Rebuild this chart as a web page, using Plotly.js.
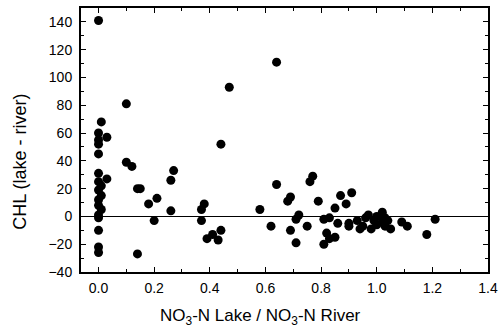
<!DOCTYPE html>
<html>
<head>
<meta charset="utf-8">
<script src="https://cdn.plot.ly/plotly-3.0.1.min.js"></script>
<style>html,body{margin:0;padding:0;background:#fff;}#chart{width:500px;height:331px;}</style>
</head>
<body>
<div id="chart"></div>
<script>
// NO3-N ratio (lake / river)
const ratio = [
  0.00, 0.10, 0.01, 0.00, 0.03, 0.00, 0.00, 0.00, 0.00, 0.03, 0.00, 0.01, 0.00, 0.01, 0.00, 0.00, 0.01, 0.00, 0.00, 0.00, 0.00, 0.00,
  0.10, 0.12, 0.14, 0.15, 0.14, 0.18, 0.21, 0.20, 0.26, 0.27, 0.26,
  0.37, 0.38, 0.37, 0.39, 0.41, 0.44, 0.43, 0.44, 0.47,
  0.58, 0.64, 0.64, 0.62, 0.68, 0.69, 0.69, 0.71, 0.71, 0.72, 0.75, 0.76, 0.77, 0.79,
  0.81, 0.83, 0.82, 0.81, 0.83, 0.85, 0.85, 0.86, 0.87, 0.89, 0.90, 0.91, 0.90,
  0.93, 0.95, 0.96, 0.98, 0.99, 1.00, 1.02, 1.02, 1.03, 1.05, 0.94, 0.97, 1.00, 1.03, 1.04,
  1.09, 1.11, 1.18, 1.21
];
// CHL difference (lake - river)
const chlDiff = [
  141, 81, 68, 60, 57, 55, 52, 45, 31, 27, 25, 22, 19, 15, 12, 8, 5, 1, -1, -10, -22, -26,
  39, 36, 20, 20, -27, 9, 13, -3, 26, 33, 4,
  5, 9, -3, -16, -13, -10, -17, 52, 93,
  5, 111, 23, -7, 11, 14, -10, -19, -2, 1, -7, 25, 29, 11,
  -2, -1, -12, -20, -16, -15, 6, -5, 15, 9, -7, 17, -5,
  -3, -7, -1, -9, -3, -6, 3, -4, -7, -9, -9, 1, 0, -1, -3,
  -4, -7, -13, -2
];
const xTicks = [0, 0.2, 0.4, 0.6, 0.8, 1.0, 1.2, 1.4];
const yTicks = [-40, -20, 0, 20, 40, 60, 80, 100, 120, 140];
const xTitle = 'NO<sub>3</sub>-N Lake / NO<sub>3</sub>-N River';
const yTitle = 'CHL (lake - river)';

const font = 'Liberation Sans, Arial, Helvetica, sans-serif';

const trace = {
  x: ratio, y: chlDiff, type: 'scatter', mode: 'markers',
  marker: {color: '#000', size: 9},
  hoverinfo: 'x+y'
};

const axisCommon = {
  showline: true, linecolor: '#000', linewidth: 2, mirror: 'allticks',
  ticks: 'inside', ticklen: 5, tickwidth: 1, tickcolor: '#000',
  showgrid: false, tickfont: {family: font, size: 14, color: '#000'}
};

const layout = {
  width: 500, height: 331,
  margin: {l: 81, r: 12, t: 8, b: 59},
  paper_bgcolor: '#fff', plot_bgcolor: '#fff',
  showlegend: false,
  font: {family: font, color: '#000'},
  xaxis: Object.assign({}, axisCommon, {
    range: [-0.063, 1.4], tickvals: xTicks, tickformat: '.1f',
    ticklabelstandoff: 2,
    minor: {dtick: 0.1, ticks: 'inside', ticklen: 3, tickcolor: '#000'},
    zeroline: false,
    title: {text: ''}
  }),
  yaxis: Object.assign({}, axisCommon, {
    range: [-40, 150], tickvals: yTicks,
    ticklabelstandoff: 4,
    minor: {dtick: 10, ticks: 'inside', ticklen: 3, tickcolor: '#000'},
    zeroline: true, zerolinecolor: '#000', zerolinewidth: 1,
    title: {text: ''}
  }),
  annotations: [{
    text: yTitle, xref: 'paper', yref: 'paper',
    x: -0.15, y: 0.417, xanchor: 'center', yanchor: 'middle',
    textangle: -90, showarrow: false,
    font: {family: font, size: 18, color: '#000'}
  }, {
    text: xTitle, xref: 'paper', yref: 'paper',
    x: 0.44, y: -0.172, xanchor: 'center', yanchor: 'middle',
    showarrow: false,
    font: {family: font, size: 17, color: '#000'}
  }]
};

Plotly.newPlot('chart', [trace], layout, {displayModeBar: false, staticPlot: true});
</script>
</body>
</html>
